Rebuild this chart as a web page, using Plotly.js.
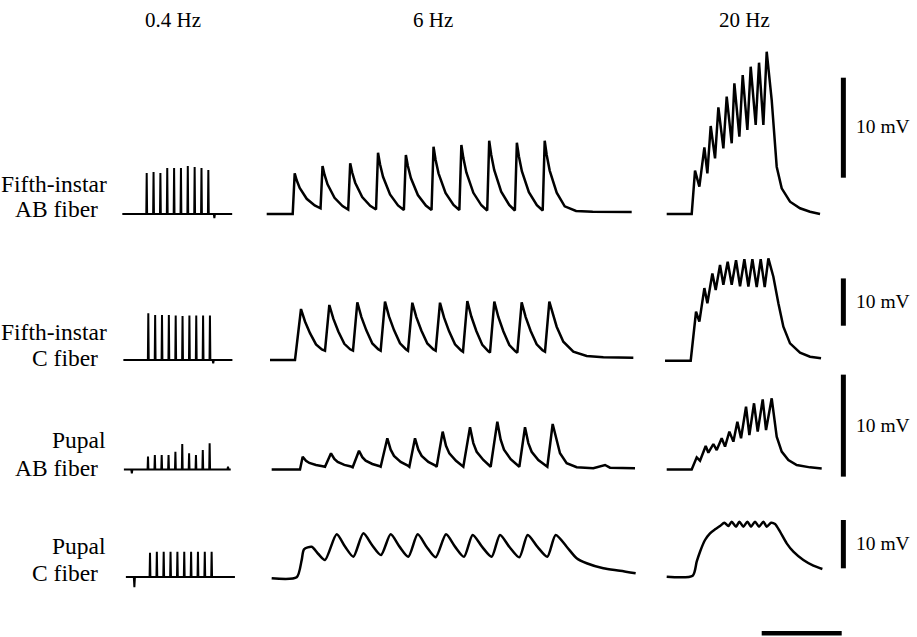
<!DOCTYPE html>
<html><head><meta charset="utf-8">
<script src="https://cdn.plot.ly/plotly-3.0.1.min.js"></script>
<style>html,body{margin:0;padding:0;background:#fff}#chart{width:917px;height:637px}</style>
</head><body><div id="chart"></div>
<script>
// ---------- tick / label text ----------
const frequencies = ['0.4 Hz', '6 Hz', '20 Hz'];
const fiberLabels = [['Fifth-instar', 'AB fiber'], ['Fifth-instar', 'C fiber'], ['Pupal', 'AB fiber'], ['Pupal', 'C fiber']];
const scaleLabel = '10 mV';
const scaleBarMV = 10;       // vertical calibration bar, mV
const timeBarMs = 480;       // horizontal calibration bar (6 Hz / 20 Hz columns), ms

// ---------- Row 1: fifth-instar AB fiber (mV above rest) ----------
// 0.4 Hz (time in s)
const r1SlowT = [-8.9, -0.15, 0, 0.15, 2.35, 2.5, 2.65, 4.85, 5, 5.15, 7.35, 7.5, 7.65, 9.85, 10, 10.15, 12.35, 12.5, 12.65, 14.85, 15, 15.15, 17.35, 17.5, 17.65, 19.85, 20, 20.15, 22.35, 22.5, 22.65, 24.5, 24.7, 24.9, 31.2];
const r1SlowV = [0, 0, 4.1, 0, 0, 4.2, 0, 0, 4.1, 0, 0, 4.6, 0, 0, 4.6, 0, 0, 4.6, 0, 0, 4.8, 0, 0, 4.7, 0, 0, 4.6, 0, 0, 4.4, 0, 0, -0.4, 0, 0];
// 6 Hz (time in ms)
const r1MidT = [-156, 0, 12, 24, 42, 84, 132, 167, 179, 191, 209, 251, 299, 333, 345, 357, 375, 417, 465, 500, 512, 524, 542, 584, 632, 667, 679, 691, 709, 751, 799, 833, 845, 857, 875, 917, 965, 1000, 1012, 1024, 1042, 1084, 1132, 1167, 1179, 1191, 1209, 1251, 1299, 1333, 1345, 1357, 1375, 1417, 1465, 1500, 1512, 1524, 1542, 1584, 1632, 1700, 1800, 2034];
const r1MidV = [0, 0, 4.07, 3.37, 2.6, 1.52, 0.85, 0.57, 4.8, 3.93, 2.97, 1.62, 0.8, 0.45, 5.07, 4.15, 3.13, 1.7, 0.82, 0.45, 6.13, 4.98, 3.72, 1.95, 0.86, 0.4, 5.9, 4.8, 3.59, 1.89, 0.84, 0.4, 6.73, 5.46, 4.07, 2.11, 0.91, 0.4, 6.9, 5.59, 4.15, 2.12, 0.87, 0.35, 7.33, 5.93, 4.4, 2.23, 0.91, 0.35, 7.13, 5.77, 4.28, 2.18, 0.89, 0.35, 7.33, 5.9, 4.34, 2.13, 0.77, 0.3, 0.22, 0.2];
// 20 Hz (time in ms)
const r1FastT = [-150, 0, 20, 46, 76, 94, 114, 140, 160, 190, 210, 240, 256, 286, 306, 334, 354, 384, 404, 430, 450, 480, 510, 540, 590, 650, 710, 770];
const r1FastV = [0, 0, 4.33, 2.73, 6.67, 4.07, 8.8, 5.57, 10.67, 6.57, 11.73, 7.07, 13.07, 7.73, 13.9, 8.4, 14.73, 8.9, 15.13, 8.9, 16.23, 11.4, 4.73, 2.57, 1.23, 0.57, 0.23, 0];

// ---------- Row 2: fifth-instar C fiber ----------
const r2SlowT = [-9.1, -0.15, 0, 0.15, 2.35, 2.5, 2.65, 4.85, 5, 5.15, 7.35, 7.5, 7.65, 9.85, 10, 10.15, 12.35, 12.5, 12.65, 14.85, 15, 15.15, 17.35, 17.5, 17.65, 19.85, 20, 20.15, 22.35, 22.5, 22.65, 23.5, 23.7, 23.9, 30.7];
const r2SlowV = [0, 0, 9.9, 0, 0, 9.5, 0, 0, 9.5, 0, 0, 9.5, 0, 0, 9.4, 0, 0, 9.3, 0, 0, 9.4, 0, 0, 9.4, 0, 0, 9.4, 0, 0, 9.4, 0, 0, -0.7, 0, 0];
const r2MidT = [-150, 0, 36, 60, 90, 126, 161, 180, 206, 230, 260, 296, 331, 348, 374, 398, 428, 464, 499, 514, 540, 564, 594, 630, 665, 678, 704, 728, 758, 794, 829, 844, 870, 894, 924, 960, 995, 1008, 1034, 1058, 1088, 1124, 1159, 1170, 1196, 1220, 1250, 1286, 1321, 1334, 1360, 1384, 1414, 1450, 1485, 1500, 1526, 1570, 1610, 1670, 1750, 1850, 2030];
const r2MidV = [0, 0, 10.78, 8.14, 5.67, 3.29, 2.23, 1.97, 11.63, 8.73, 6.03, 3.42, 2.26, 1.97, 12.2, 9.13, 6.27, 3.5, 2.28, 1.97, 12.33, 9.22, 6.32, 3.52, 2.28, 1.97, 12.11, 9.07, 6.23, 3.49, 2.27, 1.97, 12.11, 9.0, 6.11, 3.31, 2.07, 1.76, 12.47, 9.19, 6.14, 3.19, 1.88, 1.55, 12.33, 9.1, 6.08, 3.17, 1.87, 1.55, 12.2, 9.07, 6.14, 3.33, 2.07, 1.76, 12.33, 7.04, 3.87, 1.76, 0.85, 0.57, 0.49];
const r2FastT = [-160, -6, 26, 46, 76, 94, 124, 144, 170, 190, 216, 240, 266, 290, 316, 340, 364, 390, 414, 438, 460, 490, 520, 550, 590, 650, 710, 776];
const r2FastV = [-0.15, -0.15, 10.2, 8.1, 15.2, 12.0, 18.3, 14.8, 20.1, 15.9, 20.8, 15.9, 21.1, 15.6, 21.3, 15.5, 21.3, 15.4, 21.3, 15.4, 21.5, 17.6, 12.0, 7.04, 3.52, 1.55, 0.7, 0.35];

// ---------- Row 3: pupal AB fiber ----------
const r3SlowT = [-8.8, -6.1, -5.9, -5.7, -0.15, 0, 0.15, 2.35, 2.5, 2.65, 4.85, 5, 5.15, 7.35, 7.5, 7.65, 9.85, 10, 10.15, 12.35, 12.5, 12.65, 14.85, 15, 15.15, 17.35, 17.5, 17.65, 19.85, 20, 20.15, 22.35, 22.5, 22.65, 29.0, 29.2, 29.4, 30.2];
const r3SlowV = [0, 0, -0.37, 0, 0, 1.26, 0, 0, 1.42, 0, 0, 1.42, 0, 0, 1.42, 0, 0, 1.75, 0, 0, 2.5, 0, 0, 1.59, 0, 0, 1.42, 0, 0, 1.91, 0, 0, 2.57, 0, 0, 0.27, 0, 0];
const r3MidT = [-170, 0, 16, 36, 56, 96, 136, 150, 186, 206, 226, 266, 306, 316, 354, 374, 394, 434, 474, 484, 524, 544, 564, 604, 644, 656, 690, 710, 730, 770, 810, 820, 856, 876, 896, 936, 980, 1020, 1040, 1060, 1100, 1144, 1184, 1204, 1224, 1264, 1316, 1350, 1370, 1390, 1430, 1484, 1516, 1560, 1600, 1660, 1760, 1830, 1860, 2010];
const r3MidV = [0, 0, 1.25, 0.86, 0.64, 0.44, 0.32, 0.27, 1.59, 1.04, 0.74, 0.45, 0.29, 0.22, 1.84, 1.21, 0.87, 0.54, 0.35, 0.27, 3.06, 1.94, 1.33, 0.74, 0.41, 0.27, 3.06, 1.94, 1.33, 0.74, 0.41, 0.27, 3.71, 2.33, 1.58, 0.85, 0.27, 4.14, 2.59, 1.74, 0.93, 0.27, 4.69, 2.92, 1.95, 1.02, 0.27, 4.14, 2.59, 1.74, 0.93, 0.27, 4.46, 1.59, 0.61, 0.22, 0.12, 0.44, 0.18, 0.12];
const r3FastT = [-150, 0, 30, 50, 84, 100, 130, 150, 180, 200, 226, 250, 274, 296, 326, 346, 374, 396, 426, 446, 480, 510, 540, 580, 630, 710, 780];
const r3FastV = [0, 0, 1.19, 0.86, 2.3, 1.65, 2.5, 1.91, 3.06, 2.24, 3.71, 2.73, 4.69, 3.06, 6.16, 3.38, 6.49, 3.71, 6.88, 3.87, 6.98, 3.22, 1.75, 0.93, 0.44, 0.21, 0.11];

// ---------- Row 4: pupal C fiber ----------
const r4SlowT = [-8.8, -5.9, -5.7, -5.5, -0.15, 0, 0.15, 2.35, 2.5, 2.65, 4.85, 5, 5.15, 7.35, 7.5, 7.65, 9.85, 10, 10.15, 12.35, 12.5, 12.65, 14.85, 15, 15.15, 17.35, 17.5, 17.65, 19.85, 20, 20.15, 22.35, 22.5, 22.65, 31];
const r4SlowV = [0, 0, -2.1, 0, 0, 5.0, 0, 0, 5.2, 0, 0, 5.2, 0, 0, 5.2, 0, 0, 5.2, 0, 0, 5.2, 0, 0, 5.2, 0, 0, 5.2, 0, 0, 5.2, 0, 0, 5.2, 0, 0];
const r4MidT = [-170, -20, 10, 24, 70, 110, 150, 220, 270, 320, 380, 433, 486, 544, 597, 650, 706, 760, 814, 876, 930, 984, 1036, 1093, 1150, 1200, 1258, 1316, 1366, 1425, 1484, 1534, 1600, 1660, 1720, 1820, 1920, 2014];
const r4MidV = [-0.27, -0.06, 3.5, 5.73, 6.27, 4.76, 3.52, 8.84, 6.29, 4.2, 9.05, 6.58, 4.55, 8.84, 6.29, 4.2, 8.84, 6.22, 4.07, 8.84, 6.29, 4.2, 8.7, 6.23, 4.2, 8.7, 6.15, 4.07, 8.7, 6.23, 4.2, 8.7, 6.27, 3.87, 2.84, 1.8, 1.3, 0.77];
const r4FastT = [-150, 6, 30, 50, 80, 110, 140, 170, 196, 220, 240, 266, 286, 310, 334, 356, 380, 404, 430, 450, 476, 500, 530, 570, 610, 670, 730, 784];
const r4FastV = [0.06, 0.27, 3.17, 5.24, 7.66, 9.05, 9.87, 10.56, 11.24, 10.56, 11.45, 10.42, 11.45, 10.42, 11.45, 10.42, 11.45, 10.42, 11.45, 10.42, 11.24, 10.97, 9.38, 6.97, 5.24, 3.52, 2.35, 1.66];

// ---------- assembly (layout geometry only) ----------
const rows = [
  [[r1SlowT, r1SlowV], [r1MidT, r1MidV], [r1FastT, r1FastV]],
  [[r2SlowT, r2SlowV], [r2MidT, r2MidV], [r2FastT, r2FastV]],
  [[r3SlowT, r3SlowV], [r3MidT, r3MidV], [r3FastT, r3FastV]],
  [[r4SlowT, r4SlowV], [r4MidT, r4MidV], [r4FastT, r4FastV]]
];
const W = 917, H = 637;
const rowBasePx = [214, 360, 469.5, 577];     // pixel row of the resting potential
const rowPxPerMV = [10, 4.73, 10.2, 4.83];    // vertical gain of each row
const colUnitPerPx = [0.365, 6, 6];            // s/px, ms/px, ms/px
const colOriginPx = [[146.7, 292.7, 691.7], [148.3, 295, 691.7], [148, 300, 691.7], [150, 300, 691.7]];
const smoothRows = [false, false, false, true];
const scaleBarBottom = [3.63, 7.25, -0.7, 1.8]; // mV level of calibration bar bottoms
const scaleBarAt = 910;                         // ms on the 20 Hz axis
const timeBarStart = 420, timeBarLevel = -11.66;

const traces = [];
const layout = {
  width: W, height: H, margin: {l: 0, r: 0, t: 0, b: 0},
  paper_bgcolor: '#fff', plot_bgcolor: 'rgba(0,0,0,0)',
  showlegend: false, hovermode: false, annotations: []
};
const ax = (p, n) => n === 1 ? p : p + n;
rows.forEach((row, r) => {
  const yn = r + 1;
  layout[ax('yaxis', yn)] = {domain: [0, 1], range: [(rowBasePx[r] - H) / rowPxPerMV[r], rowBasePx[r] / rowPxPerMV[r]], visible: false, fixedrange: true};
  row.forEach((d, c) => {
    const xn = r * 3 + c + 1;
    const o = colOriginPx[r][c], k = colUnitPerPx[c];
    layout[ax('xaxis', xn)] = {domain: [0, 1], range: [-o * k, (W - o) * k], visible: false, fixedrange: true, anchor: ax('y', yn)};
    traces.push({
      x: d[0], y: d[1], xaxis: ax('x', xn), yaxis: ax('y', yn), mode: 'lines',
      line: {color: '#000', width: c === 0 ? 2 : 2.5, shape: (smoothRows[r] && c > 0) ? 'spline' : 'linear', smoothing: 0.7},
      cliponaxis: false
    });
  });
  // vertical calibration bar
  traces.push({x: [scaleBarAt, scaleBarAt], y: [scaleBarBottom[r], scaleBarBottom[r] + scaleBarMV],
    xaxis: ax('x', r * 3 + 3), yaxis: ax('y', yn), mode: 'lines', line: {color: '#000', width: 5}});
});
// horizontal time bar (row 4, 20 Hz axis)
traces.push({x: [timeBarStart, timeBarStart + timeBarMs], y: [timeBarLevel, timeBarLevel],
  xaxis: 'x12', yaxis: 'y4', mode: 'lines', line: {color: '#000', width: 4.5}});

const px = (x) => x / W, py = (y) => 1 - y / H;
const serif = 'Liberation Serif, Times New Roman, serif';
const titleX = [173.3, 432.7, 744];
frequencies.forEach((f, i) => layout.annotations.push({
  text: f, x: px(titleX[i]), y: py(20), xref: 'paper', yref: 'paper', xanchor: 'center', yanchor: 'middle',
  showarrow: false, font: {family: serif, size: 21, color: '#000'}
}));
const labelY = [[184.5, 208.5], [332, 357.5], [439.5, 467.5], [546, 573]];
const labelRight = [[109, 100], [109, 99.5], [108, 99.5], [108, 99.5]];
fiberLabels.forEach((lines, r) => lines.forEach((t, j) => layout.annotations.push({
  text: t, x: px(labelRight[r][j]), y: py(labelY[r][j]), xref: 'paper', yref: 'paper', xanchor: 'right', yanchor: 'middle',
  showarrow: false, font: {family: serif, size: 23.5, color: '#000'}
})));
const mvY = [127, 301.7, 425, 543.3];
mvY.forEach(y => layout.annotations.push({
  text: scaleLabel, x: px(854), y: py(y), xref: 'paper', yref: 'paper', xanchor: 'left', yanchor: 'middle',
  showarrow: false, font: {family: serif, size: 19.5, color: '#000'}
}));

Plotly.newPlot('chart', traces, layout, {displayModeBar: false, staticPlot: true});
</script>
</body></html>
